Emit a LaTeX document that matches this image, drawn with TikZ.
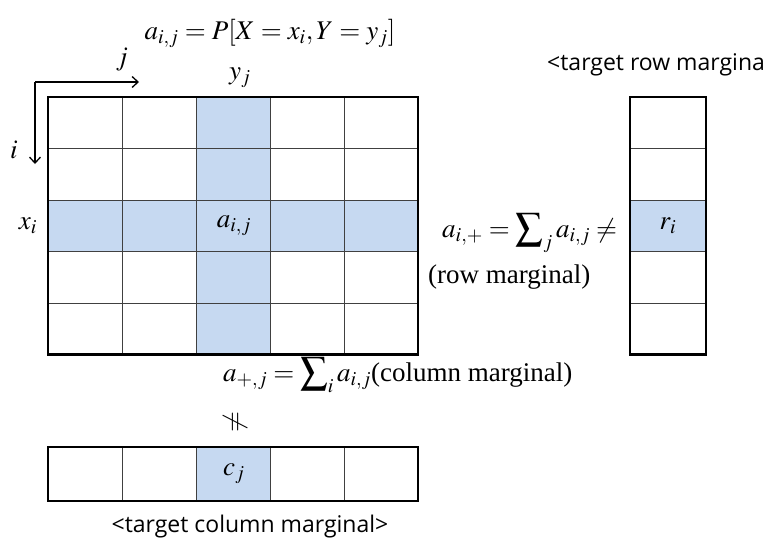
\documentclass[tikz,border=0pt]{standalone}
\usepackage{mathptmx}
\usepackage{fontspec}
\setmainfont{Liberation Serif}
\newfontfamily\sansf{Open Sans}
\usetikzlibrary{arrows.meta}
\definecolor{cellblue}{RGB}{198,217,241}
\begin{document}
\begin{tikzpicture}[x=1pt,y=-1pt,
  mlbl/.style={font=\fontsize{27}{30}\selectfont, inner sep=0pt},
  slbl/.style={font=\sansf\fontsize{23}{26}\selectfont, inner sep=0pt},
  innerline/.style={draw=black!75, line width=0.9pt},
  outerline/.style={draw=black, line width=2.2pt},
  axisarrow/.style={line width=1.3pt, -{Straight Barb[length=6pt,width=11pt,line width=1.3pt]}}]
\useasboundingbox (0,0) rectangle (765,538);
% main grid
\fill[cellblue] (196,97) rectangle (270,354.5);
\fill[cellblue] (48,200) rectangle (418,251.5);
\foreach \x in {122,196,270,344} \draw[innerline] (\x,97) -- (\x,354.5);
\foreach \y in {148.5,200,251.5,303} \draw[innerline] (48,\y) -- (418,\y);
\draw[outerline] (48,97) rectangle (418,354.5);
% row marginal box
\fill[cellblue] (630,200) rectangle (706,251.5);
\foreach \y in {148.5,200,251.5,303} \draw[innerline] (630,\y) -- (706,\y);
\draw[outerline] (630,97) rectangle (706,354.5);
% column marginal box
\fill[cellblue] (196,447) rectangle (270,501);
\foreach \x in {122,196,270,344} \draw[innerline] (\x,447) -- (\x,501);
\draw[outerline] (48,447) rectangle (418,501);
% axes
\coordinate (corner) at (35,82);
\coordinate (jend) at (139,82);
\coordinate (iend) at (35,164);
\draw[axisarrow] (corner) -- (jend);
\draw[axisarrow] (corner) -- (iend);
% labels
\node[mlbl] (formula) at (270,33) {$a_{i,j} = P[X = x_i, Y = y_j]$};
\node[mlbl] (jlbl) at (122,60) {$j$};
\node[mlbl] (ilbl) at (14,150) {$i$};
\node[mlbl] (ylbl) at (240,78) {$y_j$};
\node[mlbl] (xlbl) at (28,226) {$x_i$};
\node[mlbl] (aij) at (234,226) {$a_{i,j}$};
\node[mlbl] (ri) at (668,226) {$r_i$};
\node[mlbl] (cj) at (234,474) {$c_j$};
\node[mlbl, anchor=west] (rowsum) at (442,233) {$a_{i,+} = \displaystyle\sum\nolimits_j a_{i,j} \neq$};
\node[mlbl, anchor=west] (rowtxt) at (428,277) {(row marginal)};
\node[mlbl, anchor=west] (colsum) at (223,375) {$a_{+,j} = \displaystyle\sum\nolimits_i a_{i,j}$(column marginal)};
\node[mlbl, rotate=90] (neq) at (235,422) {$\neq$};
\node[slbl, anchor=west] (rowtarget) at (547,65) {<target row margina};
\node[slbl] (coltarget) at (250,527) {<target column marginal>};
\end{tikzpicture}
\end{document}
